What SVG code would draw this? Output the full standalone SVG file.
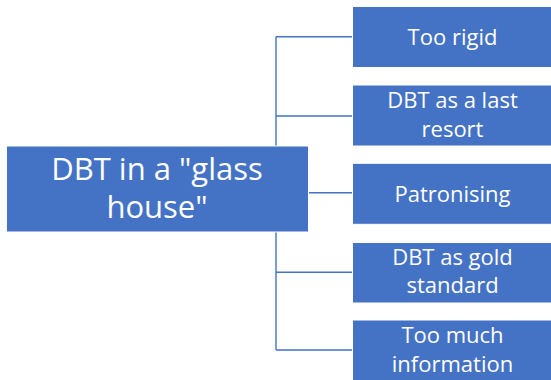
<svg xmlns="http://www.w3.org/2000/svg" width="551" height="380" viewBox="0 0 551 380">
<style>
.box{fill:#4472C4;stroke:#ffffff;stroke-width:1}
.t{fill:#ffffff;font-family:"Open Sans","Noto Sans",sans-serif;text-anchor:middle}
.s{font-size:22px}
.l{font-size:31px}
.c{fill:none;stroke:#4472C4;stroke-width:1.4}
</style>
<rect width="551" height="380" fill="#ffffff"/>
<g id="connectors">
<path class="c" d="M309,192.7 H352.5"/>
<path class="c" d="M276,36.7 V350"/>
<path class="c" d="M276,36.7 H352.5 M276,116 H352.5 M276,272.3 H352.5 M276,350 H352.5"/>
</g>
<g id="root">
<rect class="box" x="6.5" y="146" width="302" height="86"/>
<text class="t l" x="157" y="180">DBT in a "glass</text>
<text class="t l" x="157" y="218">house"</text>
</g>
<g id="n1">
<rect class="box" x="352.5" y="6.5" width="199" height="61"/>
<text class="t s" x="452.5" y="45">Too rigid</text>
</g>
<g id="n2">
<rect class="box" x="352.5" y="85" width="199" height="61"/>
<text class="t s" x="452.5" y="108.3">DBT as a last</text>
<text class="t s" x="452.5" y="136.7">resort</text>
</g>
<g id="n3">
<rect class="box" x="352.5" y="163.3" width="199" height="61"/>
<text class="t s" x="452.5" y="201.5">Patronising</text>
</g>
<g id="n4">
<rect class="box" x="352.5" y="242.5" width="199" height="60.5"/>
<text class="t s" x="452.5" y="265">DBT as gold</text>
<text class="t s" x="452.5" y="293.3">standard</text>
</g>
<g id="n5">
<rect class="box" x="352.5" y="320" width="199" height="61"/>
<text class="t s" x="452.5" y="343.3">Too much</text>
<text class="t s" x="452.5" y="371.7">information</text>
</g>
</svg>
